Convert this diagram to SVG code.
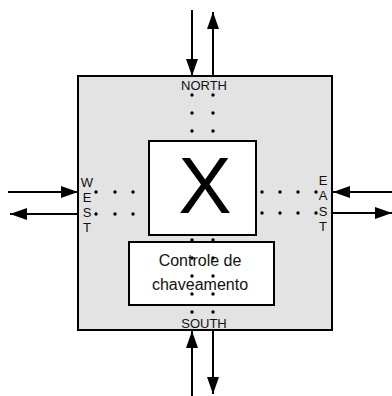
<svg xmlns="http://www.w3.org/2000/svg" width="392" height="396" viewBox="0 0 392 396">
<style>
.box{stroke:#000;stroke-width:2}
.lbl{font-family:"Liberation Sans",Arial,sans-serif;font-size:13px;fill:#111;text-anchor:middle}
.ctl{font-family:"Liberation Sans",Arial,sans-serif;font-size:16px;fill:#111;text-anchor:middle}
.big{font-family:"Liberation Sans",Arial,sans-serif;font-size:80px;fill:#000;text-anchor:middle}
.arr{stroke:#000;stroke-width:2;fill:none;marker-end:url(#ah)}
.dot{fill:#000}
</style>
<defs>
<marker id="ah" markerUnits="userSpaceOnUse" markerWidth="17" markerHeight="12" refX="17" refY="6" orient="auto">
<path d="M0,0 L17,6 L0,12 z" fill="#000"/>
</marker>
</defs>
<g id="router">
<rect class="box" x="78" y="76" width="254" height="254" fill="#e3e3e3"/>
<text class="lbl" x="204" y="90">NORTH</text>
<text class="lbl" x="204" y="328">SOUTH</text>
<text class="lbl" x="87" y="187">W</text>
<text class="lbl" x="87" y="202">E</text>
<text class="lbl" x="87" y="217">S</text>
<text class="lbl" x="87" y="232">T</text>
<text class="lbl" x="323" y="185">E</text>
<text class="lbl" x="323" y="200">A</text>
<text class="lbl" x="323" y="216">S</text>
<text class="lbl" x="323" y="231">T</text>
</g>
<g id="crossbar">
<rect class="box" x="149" y="141" width="107" height="94" fill="#fff"/>
<text class="big" x="205" y="213">X</text>
</g>
<g id="controle">
<rect class="box" x="129" y="242" width="145" height="63" fill="#fff"/>
<text class="ctl" x="200" y="266">Controle de</text>
<text class="ctl" x="200" y="290">chaveamento</text>
</g>
<g id="channels">
<circle class="dot" cx="192" cy="95" r="1.7"/><circle class="dot" cx="213" cy="95" r="1.7"/>
<circle class="dot" cx="192" cy="113" r="1.7"/><circle class="dot" cx="213" cy="113" r="1.7"/>
<circle class="dot" cx="192" cy="131" r="1.7"/><circle class="dot" cx="213" cy="131" r="1.7"/>
<circle class="dot" cx="96" cy="192" r="1.7"/><circle class="dot" cx="115" cy="192" r="1.7"/><circle class="dot" cx="133" cy="192" r="1.7"/>
<circle class="dot" cx="96" cy="214" r="1.7"/><circle class="dot" cx="115" cy="214" r="1.7"/><circle class="dot" cx="133" cy="214" r="1.7"/>
<circle class="dot" cx="262" cy="192" r="1.7"/><circle class="dot" cx="280" cy="192" r="1.7"/><circle class="dot" cx="298" cy="192" r="1.7"/><circle class="dot" cx="316" cy="192" r="1.7"/>
<circle class="dot" cx="262" cy="213" r="1.7"/><circle class="dot" cx="280" cy="213" r="1.7"/><circle class="dot" cx="298" cy="213" r="1.7"/><circle class="dot" cx="316" cy="213" r="1.7"/>
<circle class="dot" cx="192" cy="240" r="1.7"/><circle class="dot" cx="213" cy="240" r="1.7"/>
<circle class="dot" cx="192" cy="258" r="1.7"/><circle class="dot" cx="213" cy="258" r="1.7"/>
<circle class="dot" cx="192" cy="276" r="1.7"/><circle class="dot" cx="213" cy="276" r="1.7"/>
<circle class="dot" cx="192" cy="294" r="1.7"/><circle class="dot" cx="213" cy="294" r="1.7"/>
<circle class="dot" cx="192" cy="312" r="1.7"/><circle class="dot" cx="213" cy="312" r="1.7"/>
</g>
<g id="connectors">
<line class="arr" x1="192" y1="10" x2="192" y2="76"/>
<line class="arr" x1="213" y1="76" x2="213" y2="12"/>
<line class="arr" x1="8" y1="192" x2="78" y2="192"/>
<line class="arr" x1="78" y1="214" x2="10" y2="214"/>
<line class="arr" x1="392" y1="192" x2="333" y2="192"/>
<line class="arr" x1="333" y1="213" x2="392" y2="213"/>
<line class="arr" x1="192" y1="396" x2="192" y2="331"/>
<line class="arr" x1="213" y1="331" x2="213" y2="394"/>
</g>
</svg>
